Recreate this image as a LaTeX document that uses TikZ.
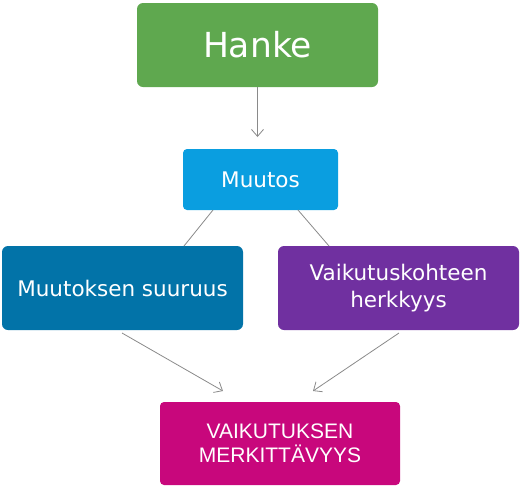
\documentclass[tikz,border=0pt]{standalone}
\usepackage{fontspec}
\setmainfont{DejaVu Sans}
\newfontfamily\arialfont{Liberation Sans}
\usetikzlibrary{arrows.meta}
\definecolor{cgreen}{HTML}{5FA84F}
\definecolor{clblue}{HTML}{0A9EE0}
\definecolor{cdblue}{HTML}{0273A8}
\definecolor{cpurple}{HTML}{7030A0}
\definecolor{cmag}{HTML}{C8077C}
\definecolor{cline}{HTML}{8A8A8A}
\tikzset{
  boxbase/.style={rounded corners=6pt, text=white, inner sep=0pt, align=center},
  conn/.style={draw=cline, line width=0.8pt},
  arr/.style={conn, -{Straight Barb[length=7pt,width=12pt]}}
}
\begin{document}
\begin{tikzpicture}[x=1pt,y=-1pt]
\useasboundingbox (0,0) rectangle (523,488);
\node[boxbase, fill=cgreen, minimum width=241pt, minimum height=84pt, font=\fontsize{34.5}{38}\selectfont] (hanke) at (257.5,45) {Hanke};
\node[boxbase, fill=clblue, minimum width=155pt, minimum height=61pt, font=\fontsize{21.5}{26}\selectfont, rounded corners=4pt] (muutos) at (260.5,179.5) {Muutos};
\node[boxbase, fill=cdblue, minimum width=241pt, minimum height=84pt, font=\fontsize{21.5}{26}\selectfont] (suuruus) at (122.5,288) {Muutoksen\ suuruus};
\node[boxbase, fill=cpurple, minimum width=241pt, minimum height=84pt, font=\fontsize{21.5}{26.5}\selectfont] (herkkyys) at (398.5,288) {Vaikutuskohteen\\herkkyys};
\node[boxbase, fill=cmag, minimum width=240pt, minimum height=83pt, font=\arialfont\fontsize{21}{24}\selectfont, rounded corners=4pt] (merk) at (280,443.5) {VAIKUTUKSEN\\MERKITTÄVYYS};
\coordinate (a1) at (257.5,137);
\coordinate (l1) at (213,210);
\coordinate (l2) at (184,246);
\coordinate (r1) at (298,210);
\coordinate (r2) at (329,246);
\coordinate (b1) at (122,333);
\coordinate (b2) at (223,391);
\coordinate (c1) at (399,333);
\coordinate (c2) at (313,391);
\draw[arr] (hanke.south) -- (a1);
\draw[conn] (l1) -- (l2);
\draw[conn] (r1) -- (r2);
\draw[arr] (b1) -- (b2);
\draw[arr] (c1) -- (c2);
\end{tikzpicture}
\end{document}
